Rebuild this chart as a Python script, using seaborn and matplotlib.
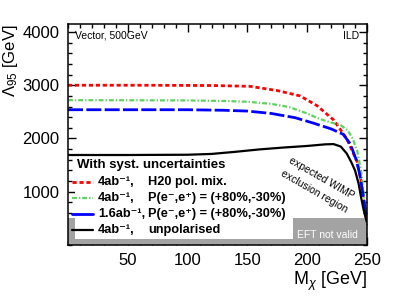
import numpy as np
import pandas as pd
import matplotlib
matplotlib.use("Agg")
import matplotlib.pyplot as plt
from matplotlib.ticker import MultipleLocator, FixedLocator
import seaborn as sns

# ---------------- data ----------------
m_red = [0, 60, 120, 152, 175, 194, 208, 222, 233, 242, 245, 247, 249, 250]
lam_red = [3000, 3000, 2995, 2980, 2900, 2800, 2620, 2350, 2000, 1550, 1200, 850, 550, 450]

m_green = [0, 100, 130, 150, 170, 185, 200, 210, 220, 228, 234, 238, 242, 245, 247, 249, 250]
lam_green = [2720, 2715, 2705, 2690, 2650, 2590, 2470, 2370, 2300, 2250, 2150, 2000, 1750, 1400, 1000, 650, 480]

m_blue = [0, 100, 130, 150, 170, 190, 205, 220, 230, 236, 241, 244, 247, 249, 250]
lam_blue = [2540, 2540, 2530, 2515, 2470, 2390, 2290, 2180, 2080, 1900, 1600, 1320, 900, 600, 460]

m_black = [0, 50, 100, 120, 140, 160, 180, 200, 215, 222, 228, 233, 237, 240, 243, 245, 247, 249, 250]
lam_black = [1690, 1690, 1695, 1710, 1750, 1795, 1830, 1860, 1890, 1895, 1850, 1720, 1550, 1400, 1150, 900, 680, 500, 430]

x_ticks = [50, 100, 150, 200, 250]
y_ticks = [1000, 2000, 3000, 4000]
eft_limit = 500

legend_header = "With syst. uncertainties"
lumi_labels = ["4ab\u207b\u00b9,", "4ab\u207b\u00b9,", "1.6ab\u207b\u00b9,", "4ab\u207b\u00b9,"]
pol_labels = ["H20 pol. mix.", "P(e\u207b,e\u207a) = (+80%,-30%)",
              "P(e\u207b,e\u207a) = (+80%,-30%)", "unpolarised"]

# ---------------- style ----------------
sns.set_style("ticks")
plt.rcParams["font.family"] = ["Liberation Sans", "DejaVu Sans"]
plt.rcParams["mathtext.fontset"] = "custom"
plt.rcParams["mathtext.rm"] = "Liberation Sans"
plt.rcParams["mathtext.it"] = "Liberation Sans:italic"
plt.rcParams["mathtext.bf"] = "Liberation Sans:bold"
plt.rcParams["text.color"] = "black"
plt.rcParams["axes.labelcolor"] = "black"
plt.rcParams["xtick.color"] = "black"
plt.rcParams["ytick.color"] = "black"
plt.rcParams["axes.edgecolor"] = "black"

fig = plt.figure(figsize=(3.99, 2.99), dpi=100)
ax = fig.add_axes([68 / 399, 1 - 245 / 299, 299 / 399, 221 / 299])

curves = [
    (m_red, lam_red, "#ff0000", 2.0, (0, (1.5, 1.0))),
    (m_green, lam_green, "#5fd35f", 1.6, (0, (2.2, 0.9, 0.6, 0.9))),
    (m_blue, lam_blue, "#0000ff", 2.0, (0, (5.4, 1.2))),
    (m_black, lam_black, "#000000", 1.6, "-"),
]
for mx, lam, col, lw, ls in curves:
    df = pd.DataFrame({"m": mx, "lam": lam})
    sns.lineplot(data=df, x="m", y="lam", ax=ax, color=col, lw=lw,
                 linestyle=ls, zorder=4)

# EFT not valid band
ax.axhspan(0, eft_limit, color="#a3a3a3", lw=0, zorder=1)
ax.text(0.765, 0.045, "EFT not valid", transform=ax.transAxes, color="white",
        fontsize=7.5, ha="left", va="center", zorder=5)

# legend (drawn by hand for column alignment)
ax.add_patch(plt.Rectangle((0.025, 0.027), 0.728, 0.373, transform=ax.transAxes,
                           facecolor="white", edgecolor="none", zorder=3))
ax.text(0.030, 0.362, legend_header, transform=ax.transAxes, fontsize=9.5,
        fontweight="bold", ha="left", va="center", zorder=6)
rows_y = [0.285, 0.213, 0.140, 0.068]
handle_ls = [(0, (1.5, 1.0)), (0, (2.2, 0.9, 0.6, 0.9)), "-", "-"]
for (mx, lam, col, lw, ls), hls, yy, l1, l2 in zip(curves, handle_ls, rows_y, lumi_labels, pol_labels):
    ax.plot([0.013, 0.084], [yy, yy], transform=ax.transAxes, color=col, lw=lw,
            linestyle=hls, zorder=6)
    ax.text(0.100, yy, l1, transform=ax.transAxes, fontsize=9.2, fontweight="bold",
            ha="left", va="center", zorder=6)
    ax.text(0.268, yy, l2, transform=ax.transAxes, fontsize=9.2, fontweight="bold",
            ha="left", va="center", zorder=6)

# annotations
ax.text(0.023, 0.946, "Vector, 500GeV", transform=ax.transAxes, fontsize=7.5,
        ha="left", va="center")
ax.text(0.973, 0.946, "ILD", transform=ax.transAxes, fontsize=7.5,
        ha="right", va="center")
ax.text(0.846, 0.303, "expected WIMP", transform=ax.transAxes, fontsize=7.5,
        rotation=-30, ha="center", va="center", rotation_mode="anchor")
ax.text(0.823, 0.240, "exclusion region", transform=ax.transAxes, fontsize=7.5,
        rotation=-30, ha="center", va="center", rotation_mode="anchor")

# axes
ax.set_xlim(0, 250)
ax.set_ylim(0, 4150)
ax.xaxis.set_major_locator(FixedLocator(x_ticks))
ax.yaxis.set_major_locator(FixedLocator(y_ticks))
ax.xaxis.set_minor_locator(MultipleLocator(10))
ax.yaxis.set_minor_locator(MultipleLocator(200))
ax.tick_params(which="both", direction="in", top=True, right=True, width=1.0,
               labelsize=12, pad=6)
ax.tick_params(which="major", length=6)
ax.tick_params(which="minor", length=3)
for s in ax.spines.values():
    s.set_linewidth(1.1)
    s.set_zorder(7)

ax.set_xlabel("M$_{\\chi}$ [GeV]", fontsize=13, loc="right", labelpad=1)
ax.set_ylabel("\u039b$_{95}$ [GeV]", fontsize=12, loc="top")
ax.yaxis.set_label_coords(-0.16, 1.0)

fig.savefig("out.png", dpi=100)
